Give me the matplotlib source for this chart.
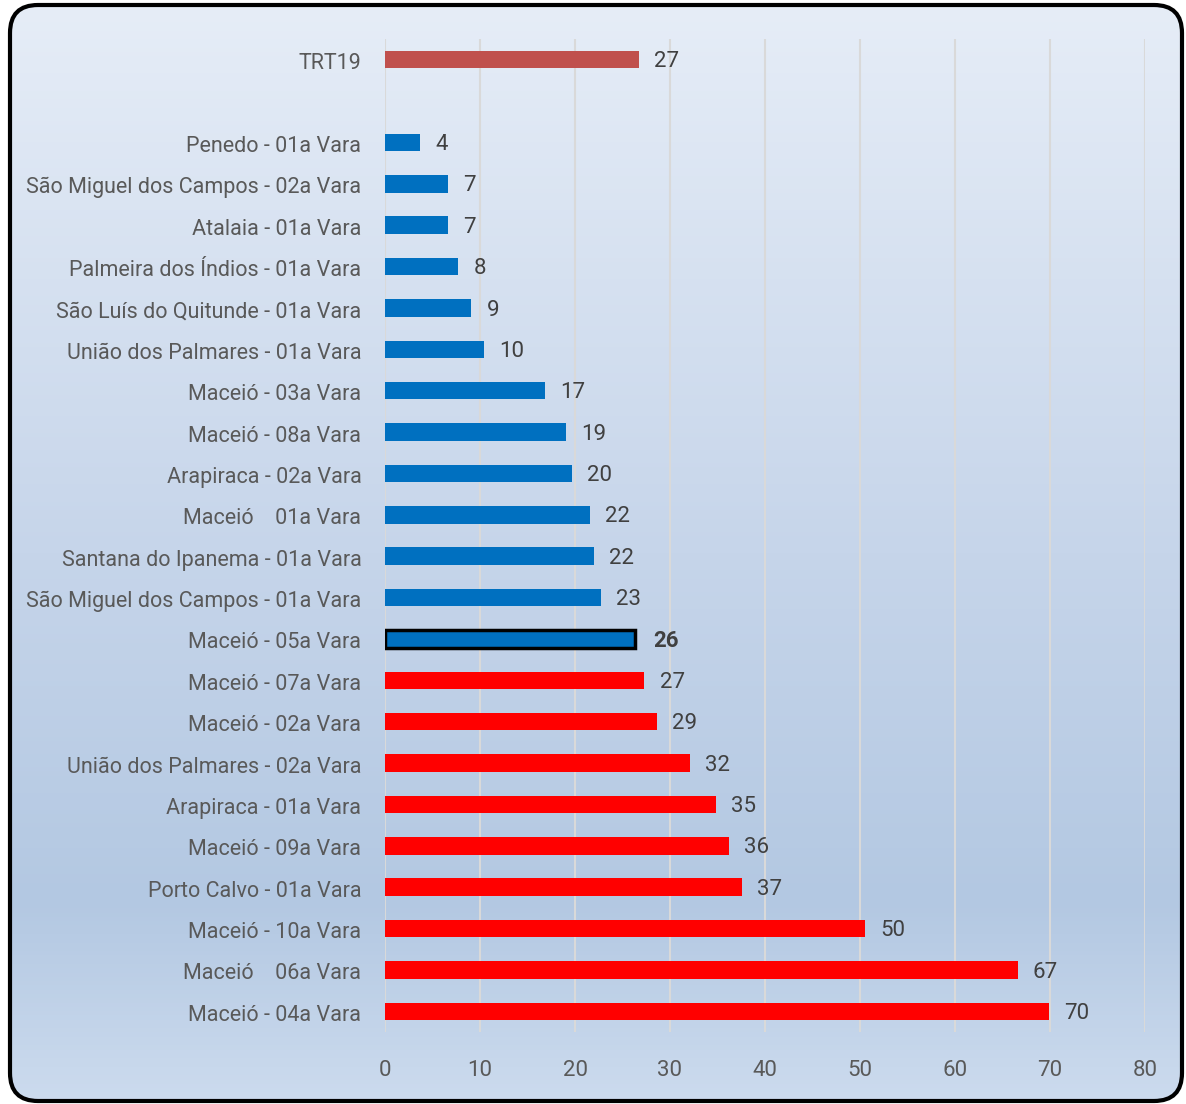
import matplotlib.pyplot as plt
import numpy as np
from matplotlib.colors import LinearSegmentedColormap
from matplotlib.patches import FancyBboxPatch
from matplotlib.transforms import ScaledTranslation

# data, top to bottom ("" is the empty slot under TRT19)
categories = [
    "TRT19", "",
    "Penedo - 01a Vara",
    "São Miguel dos Campos - 02a Vara",
    "Atalaia - 01a Vara",
    "Palmeira dos Índios - 01a Vara",
    "São Luís do Quitunde - 01a Vara",
    "União dos Palmares - 01a Vara",
    "Maceió - 03a Vara",
    "Maceió - 08a Vara",
    "Arapiraca - 02a Vara",
    "Maceió    01a Vara",
    "Santana do Ipanema - 01a Vara",
    "São Miguel dos Campos - 01a Vara",
    "Maceió - 05a Vara",
    "Maceió - 07a Vara",
    "Maceió - 02a Vara",
    "União dos Palmares - 02a Vara",
    "Arapiraca - 01a Vara",
    "Maceió - 09a Vara",
    "Porto Calvo - 01a Vara",
    "Maceió - 10a Vara",
    "Maceió    06a Vara",
    "Maceió - 04a Vara",
]
values = [26.7, None, 3.7, 6.6, 6.6, 7.7, 9.1, 10.4, 16.8, 19.0, 19.7, 21.6,
          22.0, 22.7, 26.3, 27.3, 28.6, 32.1, 34.8, 36.2, 37.6, 50.5, 66.6, 69.9]
labels = ["27", "", "4", "7", "7", "8", "9", "10", "17", "19", "20", "22",
          "22", "23", "26", "27", "29", "32", "35", "36", "37", "50", "67", "70"]
groups = ["total", None] + ["below"] * 13 + ["above"] * 9

colors = {"total": "#C0504D", "below": "#0070C0", "above": "#FF0000"}
highlight = "Maceió - 05a Vara"

plt.rcParams["font.family"] = ["Roboto", "DejaVu Sans"]

fig = plt.figure(figsize=(11.86, 11.04), dpi=100)

# background gradient with rounded frame
bg = fig.add_axes([0, 0, 1, 1], zorder=0)
bg.set_xlim(0, 1186)
bg.set_ylim(1104, 0)
bg.axis("off")
cmap = LinearSegmentedColormap.from_list(
    "bg", [(0, "#E6EDF7"), (0.5, "#C6D5EA"), (0.82, "#B3C8E2"), (1, "#CCDBEE")])
grad = np.linspace(0, 1, 256).reshape(-1, 1)
frame = FancyBboxPatch((10, 5), 1172, 1096, boxstyle="round,pad=0,rounding_size=28",
                       facecolor="none", edgecolor="black", linewidth=3)
bg.add_patch(frame)
im = bg.imshow(grad, cmap=cmap, extent=[10, 1182, 1101, 5], aspect="auto")
im.set_clip_path(frame)

ax = fig.add_axes([385 / 1186, 72 / 1104, 760 / 1186, 993 / 1104], zorder=1)
ax.patch.set_alpha(0)

y = np.arange(len(categories))
for yi, v, g, lab, cat in zip(y, values, groups, labels, categories):
    if v is None:
        continue
    hl = cat == highlight
    ax.barh(yi, v, height=0.42, color=colors[g],
            edgecolor="black" if hl else "none", linewidth=2.5 if hl else 0, zorder=3)
    ax.annotate(lab, (v, yi), xytext=(11 if not hl else 13, -1.5), textcoords="offset points",
                va="center", ha="left", fontsize=16, color="#404040",
                fontweight="bold" if hl else "normal")

ax.set_ylim(len(categories) - 0.5, -0.5)
ax.set_xlim(0, 80)
ax.set_xticks(range(0, 81, 10))
ax.set_yticks(y)
ax.set_yticklabels(categories)
ax.xaxis.grid(True, color="#D9D9D9", linewidth=1.5, zorder=0)
ax.set_axisbelow(True)
for s in ax.spines.values():
    s.set_visible(False)
ax.tick_params(axis="both", length=0, labelsize=15.5, labelcolor="#595959")
ax.tick_params(axis="x", labelsize=16)
ax.tick_params(axis="y", pad=17)
ax.tick_params(axis="x", pad=20)
shift = ScaledTranslation(0, -0.015, fig.dpi_scale_trans)
for t in ax.get_yticklabels():
    t.set_transform(t.get_transform() + shift)

fig.savefig("out.png", dpi=100)
